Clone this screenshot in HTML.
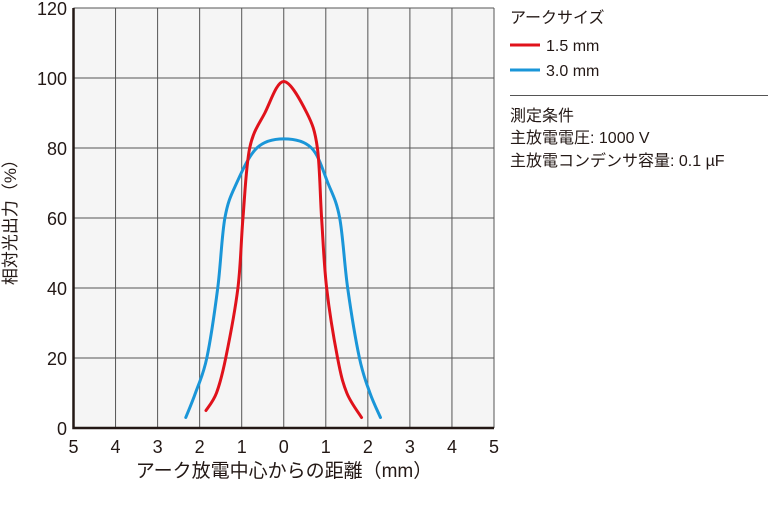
<!DOCTYPE html>
<html><head><meta charset="utf-8"><style>
body{margin:0;background:#fff;}
svg text{font-family:"Liberation Sans","Noto Sans CJK JP",sans-serif;fill:#231815;}
</style></head><body>
<svg width="769" height="501" xmlns="http://www.w3.org/2000/svg">
<rect x="73.5" y="8" width="420.5" height="420" fill="#f5f5f5"/>
<g id="grid"></g>
<g id="axes"></g>
<g id="series"></g>
<text x="16" y="218" font-size="17" text-anchor="middle" transform="rotate(-90 16 218)">相対光出力（%）</text>
<text x="284" y="477" font-size="19" text-anchor="middle">アーク放電中心からの距離（mm）</text>
<g>
<text x="510" y="23" font-size="16">アークサイズ</text>
<line x1="510" y1="45" x2="540" y2="45" stroke="#e0121b" stroke-width="3"/>
<text x="546" y="51" font-size="16">1.5 mm</text>
<line x1="510" y1="70" x2="540" y2="70" stroke="#1a96d8" stroke-width="3"/>
<text x="546" y="76" font-size="16">3.0 mm</text>
<line x1="510" y1="95.5" x2="768" y2="95.5" stroke="#555" stroke-width="1"/>
<text x="510" y="121" font-size="16">測定条件</text>
<text x="510" y="143" font-size="16">主放電電圧: 1000 V</text>
<text x="510" y="166" font-size="16">主放電コンデンサ容量: 0.1 µF</text>
</g>
</svg>
<script>
const xTicks=[-5,-4,-3,-2,-1,0,1,2,3,4,5];
const xTickLabels=["5","4","3","2","1","0","1","2","3","4","5"];
const yTicks=[0,20,40,60,80,100,120];
const redX=[-1.85,-1.6,-1.38,-1.09,-0.97,-0.81,-0.45,0,0.55,0.8,0.9,1.02,1.28,1.5,1.85];
const redY=[5,10,20,40,60,80,90,99,90,80,60,40,20,10,3];
const blueX=[-2.33,-2.1,-1.83,-1.57,-1.4,-1.12,-0.64,0,0.66,1.05,1.33,1.52,1.8,2.05,2.3];
const blueY=[3,10,20,40,60,70,80,82.6,80,70,60,40,20,10,3];
const X0=73.5,X1=494,Y0=428,Y1=8;
const sx=v=>X0+(v+5)/10*(X1-X0);
const sy=v=>Y0-v/120*(Y0-Y1);
const NS="http://www.w3.org/2000/svg";
function mk(tag,attrs,parent){const e=document.createElementNS(NS,tag);for(const k in attrs)e.setAttribute(k,attrs[k]);parent.appendChild(e);return e;}
const grid=document.getElementById('grid'),axes=document.getElementById('axes'),series=document.getElementById('series');
xTicks.forEach((t,i)=>{
 const l=mk('line',{x1:sx(t),x2:sx(t),y1:Y1,y2:Y0,stroke:'#555','stroke-width':1},grid);
 
 
 const tx=mk('text',{x:sx(t),y:453,'font-size':18,'text-anchor':'middle'},axes);
 tx.textContent=xTickLabels[i];
 
 
});
yTicks.forEach(t=>{
 const l=mk('line',{x1:X0,x2:X1,y1:sy(t),y2:sy(t),stroke:'#555','stroke-width':1},grid);
 
 
 const tx=mk('text',{x:67,y:sy(t)+7,'font-size':18,'text-anchor':'end'},axes);
 tx.textContent=String(t);
 
 
});
const ax=mk('path',{d:`M${X0} ${Y1}V${Y0}H${X1}`,fill:'none',stroke:'#231815','stroke-width':2.5},axes);


function smooth(xs,ys){
 const p=xs.map((x,i)=>[sx(x),sy(ys[i])]);
 let d=`M${p[0][0]} ${p[0][1]}`;
 for(let i=0;i<p.length-1;i++){
  const a=p[i-1]||p[i],b=p[i],c=p[i+1],e=p[i+2]||c;
  d+=`C${b[0]+(c[0]-a[0])/6} ${b[1]+(c[1]-a[1])/6} ${c[0]-(e[0]-b[0])/6} ${c[1]-(e[1]-b[1])/6} ${c[0]} ${c[1]}`;
 }
 return d;
}
const blue=mk('path',{d:smooth(blueX,blueY),fill:'none',stroke:'#1a96d8','stroke-width':3,'stroke-linecap':'round'},series);


const red=mk('path',{d:smooth(redX,redY),fill:'none',stroke:'#e0121b','stroke-width':3,'stroke-linecap':'round'},series);


</script>
</body></html>
